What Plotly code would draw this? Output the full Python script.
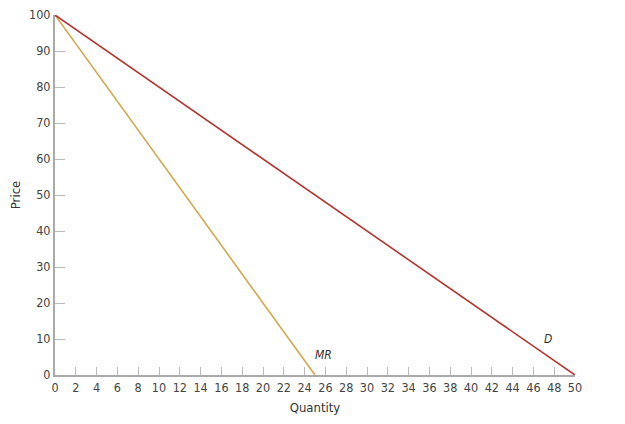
import plotly.graph_objects as go

quantity = [0, 50]
demand_price = [100, 0]
mr_quantity = [0, 25]
mr_price = [100, 0]
x_ticks = list(range(0, 51, 2))
y_ticks = list(range(0, 101, 10))

font_family = "Liberation Sans Narrow, DejaVu Sans Condensed, Roboto, sans-serif"

fig = go.Figure()
fig.add_trace(go.Scatter(x=mr_quantity, y=mr_price, mode="lines",
                         line=dict(color="#d2a84e", width=1.6), hoverinfo="skip"))
fig.add_trace(go.Scatter(x=quantity, y=demand_price, mode="lines",
                         line=dict(color="#b3342f", width=1.6), hoverinfo="skip"))

fig.add_annotation(x=25.8, y=5.5, text="<i>MR</i>", showarrow=False,
                   font=dict(size=12, color="#333", family=font_family))
fig.add_annotation(x=47.4, y=10, text="<i>D</i>", showarrow=False,
                   font=dict(size=12, color="#333", family=font_family))

fig.update_layout(
    width=617, height=416,
    margin=dict(l=47, r=50, t=7, b=49),
    paper_bgcolor="white", plot_bgcolor="white",
    showlegend=False,
    font=dict(family=font_family, size=12, color="#333"),
)
fig.update_xaxes(range=[0, 50], tickvals=x_ticks, ticks="inside", ticklen=8,
                 tickcolor="#bbb", tickwidth=1, showgrid=False, zeroline=False,
                 showline=True, linecolor="#aaa", linewidth=2, automargin=False,
                 ticklabeloverflow="allow",
                 title=dict(text="Quantity", font=dict(size=13), standoff=9),
                 tickfont=dict(size=12.5, color="#444"))
fig.update_yaxes(range=[0, 100], tickvals=y_ticks, ticks="inside", ticklen=10,
                 tickcolor="#bbb", tickwidth=1, showgrid=False, zeroline=False,
                 showline=True, linecolor="#aaa", linewidth=2, automargin=False,
                 ticklabeloverflow="allow",
                 title=dict(text="Price", font=dict(size=13), standoff=16),
                 tickfont=dict(size=12.5, color="#444"))

fig.write_html("out.html")
